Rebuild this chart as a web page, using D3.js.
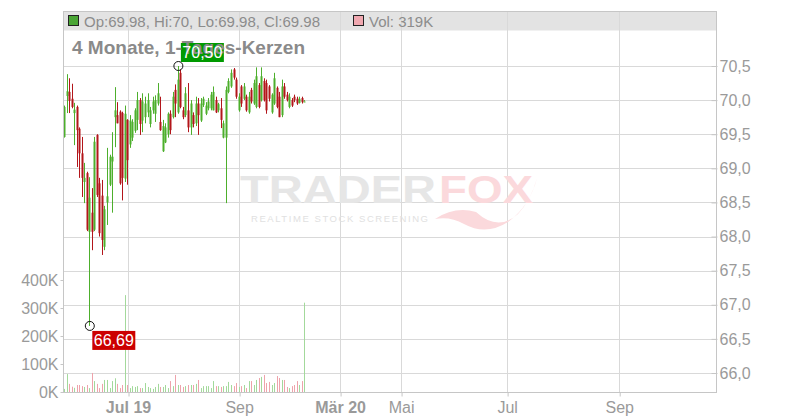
<!DOCTYPE html>
<html><head><meta charset="utf-8">
<script src="https://cdn.jsdelivr.net/npm/d3@7"></script>
<style>html,body{margin:0;padding:0;background:#fff;}svg{display:block;font-family:"Liberation Sans",Arial,sans-serif;}</style>
</head><body>
<svg id="c" width="800" height="420"></svg>
<script>
// ---- data ----
const opens  = [69.46,70.06,70.12,70.02,69.81,69.90,69.58,69.22,68.80,68.93,68.07,68.35,68.10,69.49,68.78,68.60,67.85,68.50,68.76,69.10,69.75,69.78,69.83,69.81,68.85,69.71,69.35,69.45,69.55,69.71,70.00,69.70,69.75,69.82,69.65,69.85,69.80,69.95,69.68,69.25,69.38,69.50,69.80,69.75,70.15,69.82,70.40,69.85,69.78,69.85,69.60,69.78,69.66,69.95,69.70,69.93,69.80,69.88,69.88,69.85,70.00,69.85,69.88,69.45,69.45,70.12,70.20,70.45,70.30,69.85,70.20,70.02,70.05,69.82,70.15,69.95,69.90,70.22,70.00,70.28,70.25,70.20,69.82,69.95,70.18,70.05,69.78,70.20,70.08,69.90,70.00,70.05,70.02,69.96,70.03,69.98];
const highs  = [69.92,70.38,70.32,70.24,69.96,69.92,69.60,69.46,69.08,68.95,68.87,68.71,69.46,69.50,68.86,68.83,68.45,69.30,69.20,69.53,70.19,69.97,69.85,69.83,69.92,69.72,69.78,69.72,69.88,70.12,70.03,70.10,70.05,70.10,69.90,70.05,70.07,70.25,70.05,69.71,69.66,69.82,69.85,70.12,70.23,70.50,70.45,69.90,70.19,70.25,70.00,69.82,70.05,70.03,70.03,70.05,69.97,70.03,70.12,70.20,70.05,69.96,70.03,69.70,70.20,70.32,70.45,70.47,70.33,70.10,70.22,70.25,70.08,70.12,70.18,70.30,70.48,70.25,70.48,70.32,70.30,70.22,70.10,70.40,70.20,70.12,70.30,70.25,70.12,70.10,70.03,70.08,70.05,70.05,70.05,70.00];
const lows   = [69.45,69.81,69.81,69.88,69.34,69.02,68.86,68.58,68.49,68.08,66.69,67.80,68.08,68.58,68.00,67.73,67.80,68.17,68.74,68.35,69.31,69.66,68.76,68.53,68.80,68.76,69.30,69.40,69.52,69.56,69.49,69.53,69.66,69.75,69.60,69.80,69.68,69.92,69.55,69.24,69.37,69.45,69.50,69.73,69.75,69.80,69.88,69.72,69.75,69.53,69.49,69.60,69.62,69.49,69.68,69.90,69.78,69.85,69.85,69.85,69.81,69.82,69.59,69.44,68.49,70.10,70.18,70.30,70.02,69.83,69.90,70.00,69.83,69.80,69.95,69.93,69.88,69.88,69.98,69.98,69.80,69.98,69.80,69.93,69.88,69.75,69.75,70.02,69.98,69.88,69.90,69.97,69.93,69.95,69.95,69.98];
const closes = [69.90,70.13,69.99,69.90,69.86,69.56,69.22,68.86,68.86,68.10,68.57,68.07,69.39,68.61,68.05,67.95,68.40,68.59,69.17,69.17,69.85,69.66,68.78,68.86,69.80,69.12,69.70,69.68,69.85,70.00,69.65,69.98,69.95,70.00,69.85,69.98,70.00,70.10,69.56,69.62,69.60,69.80,69.56,70.05,69.95,70.30,69.90,69.75,70.10,69.60,69.95,69.65,69.95,69.78,69.95,70.02,69.92,69.98,70.08,70.12,69.82,69.94,69.71,69.66,70.15,70.28,70.40,70.33,70.05,70.05,69.95,70.20,69.85,70.05,69.98,70.25,70.35,69.90,70.35,70.00,69.85,70.02,70.08,70.32,69.90,69.75,70.20,70.05,70.00,70.05,69.92,70.00,69.95,70.02,69.97,69.98];
const volumesK = [11,64,29,19,15,25,25,21,18,25,14,68,39,29,14,29,43,43,14,39,49,29,14,25,346,25,14,21,18,21,14,14,32,18,14,11,18,29,18,18,25,14,39,21,61,25,25,18,21,25,25,25,29,43,14,21,21,21,14,39,21,21,18,21,21,36,25,21,32,18,21,25,14,39,39,25,43,50,54,61,32,36,25,32,57,50,43,43,18,14,21,25,39,25,39,319];
const xTickLabels = ["Jul 19","Sep","Mär 20","Mai","Jul","Sep"];
const xTickIndex  = [25.3, 69.2, 109.1, 133.2, 175.1, 219.4];
const xTickBold   = [true,false,true,false,false,false];
const priceTicks  = [66.0,66.5,67.0,67.5,68.0,68.5,69.0,69.5,70.0,70.5];
const volTicksK   = [0,100,200,300,400];
const titleText   = "4 Monate, 1-Tages-Kerzen";

// ---- layout ----
const L = 63.5, R = 716.5, T = 11.5, B = 392.5;
const svg = d3.select("#c");
const fmtC = (f) => (v) => d3.format(f)(v).replace(".", ",");
const x = d3.scaleLinear().domain([0, 95]).range([64, 304.4]);
const y = d3.scaleLinear().domain([66, 70.5]).range([373, 66]);
const yv = d3.scaleLinear().domain([0, 400]).range([392, 280]);
const GREEN = "#4daf2c", RED = "#b3161b";
const AXF = 16;

// header band
svg.append("rect").attr("x", L).attr("y", T).attr("width", R - L).attr("height", 19).attr("fill", "#e3e3e3");

// grid
const grid = svg.append("g").attr("stroke", "#d9d9d9").attr("stroke-width", 1);
grid.selectAll("line.h").data(priceTicks).join("line")
  .attr("x1", L).attr("x2", R).attr("y1", d => Math.round(y(d)) + 0.5).attr("y2", d => Math.round(y(d)) + 0.5);
grid.selectAll("line.v").data(xTickIndex).join("line")
  .attr("y1", T).attr("y2", B).attr("x1", d => Math.round(x(d)) + 0.5).attr("x2", d => Math.round(x(d)) + 0.5);

// watermark
const wm = svg.append("g");
wm.append("text").attr("x", 240).attr("y", 203).attr("font-size", 39).attr("font-weight", "bold")
  .attr("fill", "#e6e6e6").attr("textLength", 196).attr("lengthAdjust", "spacingAndGlyphs").text("TRADER");
wm.append("path").attr("fill", "#fbd9dc")
  .attr("d", "M435,219 Q455,206 476,212 Q498,232 518,214 Q531,200 537,178 Q530,206 508,222 Q486,236 464,224 Q450,216 435,219 Z");
wm.append("text").attr("x", 439).attr("y", 203).attr("font-size", 39).attr("font-weight", "bold")
  .attr("fill", "#fbd9dc").attr("textLength", 94).attr("lengthAdjust", "spacingAndGlyphs").text("FOX");
wm.append("text").attr("x", 251).attr("y", 222).attr("font-size", 9.5)
  .attr("fill", "#e1e1e1").attr("textLength", 177).attr("lengthAdjust", "spacing").text("REALTIME STOCK SCREENING");

// volume bars
const idx = d3.range(opens.length);
svg.append("g").selectAll("rect").data(idx).join("rect")
  .attr("x", i => Math.round(x(i)))
  .attr("width", 1)
  .attr("y", i => yv(volumesK[i]))
  .attr("height", i => yv(0) - yv(volumesK[i]))
  .attr("fill", i => closes[i] >= opens[i] ? "#a3d99b" : "#eea3ab");

// candles
const cg = svg.append("g");
cg.selectAll("line").data(idx).join("line")
  .attr("x1", i => Math.round(x(i)) + 0.5).attr("x2", i => Math.round(x(i)) + 0.5)
  .attr("y1", i => y(highs[i])).attr("y2", i => y(lows[i]))
  .attr("stroke", i => closes[i] >= opens[i] ? GREEN : RED).attr("stroke-width", 1);
cg.selectAll("rect").data(idx).join("rect")
  .attr("x", i => Math.round(x(i)) - 0.5)
  .attr("width", 2)
  .attr("y", i => y(Math.max(opens[i], closes[i])))
  .attr("height", i => Math.max(1, Math.abs(y(opens[i]) - y(closes[i]))))
  .attr("fill", i => closes[i] >= opens[i] ? GREEN : RED);

// plot border
svg.append("rect").attr("x", L).attr("y", T).attr("width", R - L).attr("height", B - T)
  .attr("fill", "none").attr("stroke", "#c6c6c6");

// right price axis
const pa = svg.append("g").attr("transform", `translate(${R},0)`)
  .call(d3.axisRight(y).tickValues(priceTicks).tickFormat(fmtC(".1f")).tickSize(0).tickPadding(3));
pa.select(".domain").remove();
pa.selectAll("text").attr("fill", "#9a9a9a").attr("font-size", AXF).attr("font-family", "Liberation Sans, Arial, sans-serif");
pa.selectAll(".tick").append("line").attr("x1", -5).attr("x2", 1).attr("stroke", "#c6c6c6");

// left volume axis
const va = svg.append("g").attr("transform", `translate(${L},0)`)
  .call(d3.axisLeft(yv).tickValues(volTicksK).tickFormat(d => d + "K").tickSize(3).tickPadding(2));
va.select(".domain").remove();
va.selectAll("line").attr("stroke", "#c6c6c6");
va.selectAll("text").attr("fill", "#9a9a9a").attr("font-size", AXF).attr("font-family", "Liberation Sans, Arial, sans-serif");

// bottom x axis
const xa = svg.append("g").attr("transform", `translate(0,${B})`)
  .call(d3.axisBottom(x).tickValues(xTickIndex).tickFormat((d, i) => xTickLabels[i]).tickSize(4).tickPadding(5));
xa.select(".domain").remove();
xa.selectAll("line").attr("stroke", "#c6c6c6").attr("transform", "translate(0.5,0)");
xa.selectAll("text").attr("fill", "#9a9a9a").attr("font-size", AXF).attr("font-family", "Liberation Sans, Arial, sans-serif")
  .attr("font-weight", (d, i) => xTickBold[i] ? "bold" : "normal");

// header legend
const last = opens.length - 1;
const hdr = svg.append("g").attr("font-size", 15).attr("fill", "#8c8c8c");
hdr.append("rect").attr("x", 68.5).attr("y", 15.5).attr("width", 10).attr("height", 10).attr("fill", "#4aa535").attr("stroke", "#222");
const f2 = v => String(+v.toFixed(2));
hdr.append("text").attr("x", 84).attr("y", 26.5)
  .text(`Op:${f2(opens[last])}, Hi:${f2(highs[last])}, Lo:${f2(lows[last])}, Cl:${f2(closes[last])}`);
hdr.append("rect").attr("x", 353.5).attr("y", 15.5).attr("width", 10).attr("height", 10).attr("fill", "#f0a8b0").attr("stroke", "#222");
hdr.append("text").attr("x", 369).attr("y", 26.5).text(`Vol: ${volumesK[last]}K`);

// extremes markers: green box, then title over it, then white value text
const iMax = d3.maxIndex(highs), iMin = d3.minIndex(lows);
svg.append("rect").attr("x", x(iMax) + 3).attr("y", y(highs[iMax]) - 23).attr("width", 43).attr("height", 19).attr("fill", "#009a00");
svg.append("text").attr("x", 72).attr("y", 54).attr("font-size", 19).attr("font-weight", "bold")
  .attr("fill", "#8a8a8a").text(titleText);
const mk2 = svg.append("g");
mk2.append("text").attr("x", x(iMax) + 24.5).attr("y", y(highs[iMax]) - 8).attr("text-anchor", "middle")
  .attr("font-size", 16).attr("fill", "#fff").text(fmtC(".2f")(highs[iMax]));
mk2.append("circle").attr("cx", x(iMax) + 0.5).attr("cy", y(highs[iMax])).attr("r", 4.5)
  .attr("fill", "none").attr("stroke", "#111").attr("stroke-width", 1);
mk2.append("rect").attr("x", x(iMin) + 3).attr("y", y(lows[iMin]) + 5).attr("width", 43).attr("height", 19).attr("fill", "#cc0000");
mk2.append("text").attr("x", x(iMin) + 24.5).attr("y", y(lows[iMin]) + 20).attr("text-anchor", "middle")
  .attr("font-size", 16).attr("fill", "#fff").text(fmtC(".2f")(lows[iMin]));
mk2.append("circle").attr("cx", x(iMin) + 0.5).attr("cy", y(lows[iMin])).attr("r", 4.5)
  .attr("fill", "none").attr("stroke", "#111").attr("stroke-width", 1);
</script>
</body></html>
